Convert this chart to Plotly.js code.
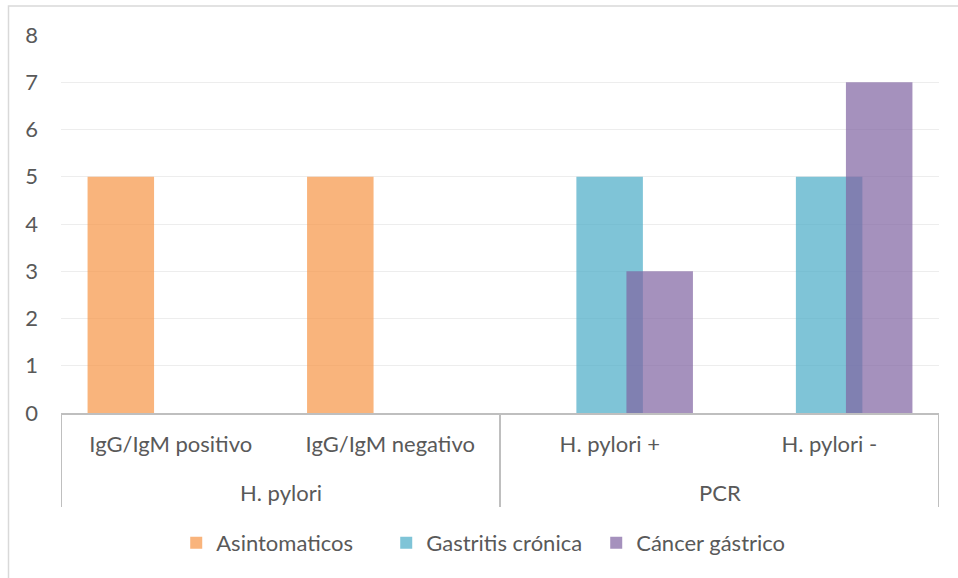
<!DOCTYPE html>
<html>
<head>
<meta charset="utf-8">
<script src="https://cdn.plot.ly/plotly-3.0.1.min.js"></script>
<style>html,body{margin:0;padding:0;background:#fff;}#chart{width:958px;height:578px;}</style>
</head>
<body>
<div id="chart"></div>
<script>
var groups = ["H. pylori", "PCR"];
var groupCenters = [0.5, 2.5];
var dividers = [-0.5, 1.5, 3.5];
var categories = ["IgG/IgM positivo", "IgG/IgM negativo", "H. pylori +", "H. pylori -"];
var seriesNames = ["Asintomaticos", "Gastritis crónica", "Cáncer gástrico"];
var asintomaticos = [5, 5, 0, 0];
var gastritis = [0, 0, 5, 5];
var cancer = [0, 0, 3, 7];
var yTicks = [0, 1, 2, 3, 4, 5, 6, 7, 8];

var colors = ["rgba(247,150,70,0.71)", "rgba(75,172,198,0.71)", "rgba(128,100,162,0.71)"];
var offsets = [-0.379, -0.152, 0.076];
var barWidth = 0.303;
var values = [asintomaticos, gastritis, cancer];

var traces = values.map(function (v, i) {
  return {
    type: "bar",
    name: seriesNames[i],
    x: categories,
    y: v,
    width: barWidth,
    offset: offsets[i],
    marker: { color: colors[i], line: { width: 0 } },
    hoverinfo: "skip"
  };
});

var W = 958, H = 578, L = 61, R = 19, T = 35, B = 165;
var pw = W - L - R, ph = H - T - B;
function px(x) { return (x - L) / pw; }
function py(y) { return (H - B - y) / ph; }

var font = "Lato, 'Open Sans', sans-serif";
var fs = 22;
var shapes = [{
  type: "rect", xref: "paper", yref: "paper",
  x0: px(8.5), x1: px(1000), y0: py(620), y1: py(6),
  line: { color: "#D9D9D9", width: 1.5 }, fillcolor: "rgba(0,0,0,0)", layer: "below"
}];
dividers.forEach(function (d) {
  shapes.push({
    type: "line", xref: "x", yref: "paper", x0: d, x1: d, y0: 0, y1: py(507),
    line: { color: "#BFBFBF", width: 2 }
  });
});
var annotations = groups.map(function (g, i) {
  return {
    text: g, xref: "x", yref: "paper", x: groupCenters[i], y: py(492),
    xanchor: "center", yanchor: "middle", showarrow: false,
    font: { family: font, size: fs, color: "#595959" }
  };
});

var layout = {
  width: W, height: H,
  margin: { l: L, r: R, t: T, b: B, pad: 0 },
  paper_bgcolor: "#ffffff",
  plot_bgcolor: "#ffffff",
  barmode: "overlay",
  font: { family: font, color: "#595959", size: fs },
  showlegend: true,
  legend: {
    orientation: "h", x: 0.49, xanchor: "center", y: py(543), yanchor: "middle",
    font: { family: font, size: fs, color: "#595959" },
    itemwidth: 30, traceorder: "normal",
    entrywidth: 165, entrywidthmode: "pixels"
  },
  xaxis: {
    type: "category",
    range: [-0.5, 3.5],
    showline: true, linecolor: "#BFBFBF", linewidth: 2,
    showgrid: false, zeroline: false,
    ticks: "", ticklabelstandoff: 11,
    tickfont: { family: font, size: fs, color: "#595959" }
  },
  yaxis: {
    range: [0, 8],
    tickvals: yTicks,
    ticktext: yTicks.map(String),
    showgrid: true, gridcolor: "#EDEDED", gridwidth: 1,
    zeroline: false, showline: false,
    ticks: "", ticklabelstandoff: 22,
    tickfont: { family: font, size: fs, color: "#595959" }
  },
  shapes: shapes,
  annotations: annotations
};

Plotly.newPlot("chart", traces, layout, { displayModeBar: false, staticPlot: true });
</script>
</body>
</html>
